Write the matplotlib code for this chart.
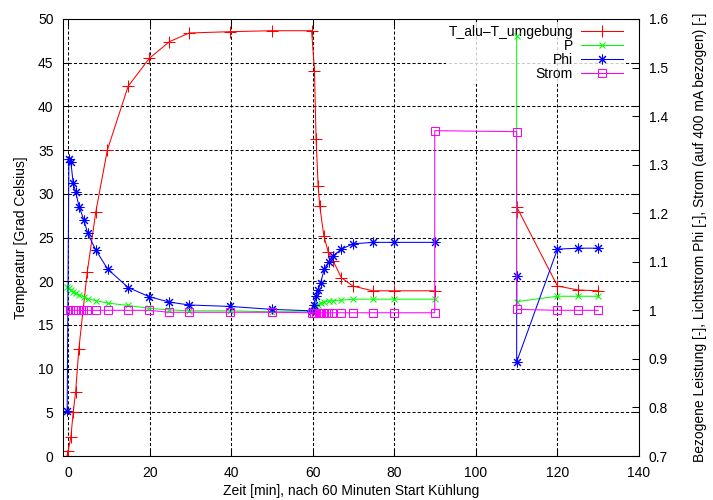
import matplotlib
matplotlib.use('Agg')
import matplotlib.pyplot as plt

plt.rcParams['font.family'] = ['Liberation Sans', 'DejaVu Sans']
plt.rcParams['font.size'] = 10

# T_alu - T_umgebung (linke Achse, Grad Celsius)
t_temp_1 = [-0.3, 0.0, 0.66, 1.23, 1.82, 2.6, 4.66, 6.76, 9.6, 14.7, 19.9, 24.8, 29.7, 39.8,
            49.9, 59.7, 60.4, 60.8, 61.3, 61.7, 62.7, 63.8, 65.0, 67.0, 69.8, 74.7, 79.9, 89.9]
temp_1 = [0.0, 0.6, 2.2, 5.0, 7.3, 12.2, 21.0, 27.9, 35.0, 42.3, 45.5, 47.4, 48.4, 48.55,
          48.66, 48.66, 44.1, 36.3, 30.9, 28.6, 25.2, 23.3, 22.3, 20.4, 19.45, 18.9, 18.9, 18.9]
t_temp_2 = [110, 110, 120, 125, 130]
temp_2 = [27.95, 28.5, 19.45, 19.0, 18.9]

# P, bezogene Leistung (rechte Achse)
t_p_1 = [-0.3, 0.2, 0.66, 1.23, 1.82, 2.7, 3.85, 4.76, 6.72, 9.67, 14.7, 19.9, 24.8, 29.7,
         39.8, 49.9, 59.7, 60.3, 60.9, 61.3, 61.9, 62.8, 63.9, 64.9, 67.0, 69.9, 74.8, 79.9, 89.9]
p_1 = [1.049, 1.046, 1.042, 1.038, 1.035, 1.031, 1.028, 1.024, 1.020, 1.015, 1.010, 1.004,
       1.001, 0.999, 0.999, 0.997, 0.997, 1.005, 1.008, 1.012, 1.015, 1.018, 1.019, 1.020,
       1.021, 1.023, 1.023, 1.023, 1.023]
t_p_2 = [110, 110, 120, 125, 130]
p_2 = [1.565, 1.018, 1.029, 1.029, 1.029]

# Phi, Lichtstrom (rechte Achse)
t_phi_1 = [-0.25, 0.17, 0.66, 1.23, 1.82, 2.7, 3.85, 4.76, 6.72, 9.67, 14.7, 19.9, 24.8, 29.7,
           39.8, 49.9, 59.7, 60.3, 60.9, 61.3, 61.9, 62.8, 63.9, 64.9, 67.0, 69.9, 74.8, 79.9, 89.9]
phi_1 = [0.793, 1.312, 1.305, 1.262, 1.244, 1.213, 1.186, 1.159, 1.125, 1.085, 1.047, 1.028,
         1.017, 1.011, 1.008, 1.002, 0.999, 1.011, 1.030, 1.042, 1.056, 1.085, 1.100, 1.112,
         1.126, 1.137, 1.140, 1.140, 1.140]
t_phi_2 = [110, 110, 120, 125, 130]
phi_2 = [1.071, 0.894, 1.126, 1.128, 1.128]

# Strom, bezogen auf 400 mA (rechte Achse)
t_strom = [-0.4, 0.4, 1.2, 1.8, 2.45, 3.1, 3.7, 4.7, 6.7, 9.7, 14.7, 19.9, 24.8, 29.7, 39.8,
           49.9, 59.7, 60.2, 60.8, 61.4, 62.0, 62.6, 63.2, 63.8, 64.6, 67.0, 69.9, 74.8, 79.9,
           89.9, 89.9, 110, 110, 120, 125, 130]
strom = [1.0, 1.0, 1.0, 1.0, 1.0, 1.0, 1.0, 1.0, 1.0, 1.0, 1.0, 1.0, 0.996, 0.996, 0.996,
         0.996, 0.995, 0.995, 0.995, 0.995, 0.995, 0.995, 0.995, 0.995, 0.995, 0.995, 0.995,
         0.995, 0.995, 0.995, 1.370, 1.368, 1.002, 1.0, 1.0, 1.0]

fig = plt.figure(figsize=(7.13, 5.0), dpi=100)
ax = fig.add_axes([63.3 / 713, 1 - 456 / 500, (639 - 63.3) / 713, (456 - 19) / 500])
ax2 = ax.twinx()

lw = 0.75
asterisk = (8, 2, 0)

ax.plot(t_temp_1, temp_1, color='#ff0000', lw=lw, marker='+', ms=8, mew=lw)
ax.plot(t_temp_2, temp_2, color='#ff0000', lw=lw, marker='+', ms=8, mew=lw)

ax2.plot(t_p_1, p_1, color='#00ff00', lw=lw, marker='x', ms=5, mew=lw)
ax2.plot(t_p_2, p_2, color='#00ff00', lw=lw, marker='x', ms=5, mew=lw)
ax2.plot(t_phi_1, phi_1, color='#0000ff', lw=lw, marker=asterisk, ms=7, mew=lw)
ax2.plot(t_phi_2, phi_2, color='#0000ff', lw=lw, marker=asterisk, ms=7, mew=lw)
ax2.plot(t_strom, strom, color='#ff00ff', lw=lw, marker='s', ms=6, mew=lw, mfc='none')

# legend handles (gnuplot key)
h_t, = ax.plot([], [], color='#ff0000', lw=lw, marker='+', ms=8, mew=lw)
h_p, = ax.plot([], [], color='#00ff00', lw=lw, marker='x', ms=5, mew=lw)
h_phi, = ax.plot([], [], color='#0000ff', lw=lw, marker=asterisk, ms=7, mew=lw)
h_s, = ax.plot([], [], color='#ff00ff', lw=lw, marker='s', ms=6, mew=lw, mfc='none')
leg = ax.legend([h_t, h_p, h_phi, h_s], ['T_alu\u2013T_umgebung', 'P', 'Phi', 'Strom'],
                loc='upper right', bbox_to_anchor=(0.977, 0.992), markerfirst=False,
                numpoints=1, handlelength=3.0, handletextpad=0.6, labelspacing=0.0,
                borderaxespad=0.0, borderpad=0.2, frameon=True, fancybox=False)
leg.get_frame().set_edgecolor('none')
leg.get_frame().set_facecolor('white')
leg.set_zorder(1)

ax.set_xlim(-1.2, 140)
ax.set_ylim(0, 50)
ax2.set_ylim(0.7, 1.6)
ax.set_xticks(range(0, 141, 20))
ax.set_yticks(range(0, 51, 5))
ax2.set_yticks([0.7 + 0.1 * i for i in range(10)])
ax2.set_yticklabels(['0.7', '0.8', '0.9', '1', '1.1', '1.2', '1.3', '1.4', '1.5', '1.6'])

ax.set_axisbelow(True)
ax.grid(True, color='black', lw=lw, linestyle=(0, (3, 2)))
ax.tick_params(axis='both', direction='in', length=5, width=lw, top=True, right=True,
               labelright=False, pad=7)
ax2.tick_params(axis='y', direction='in', length=5, width=lw, pad=7)
for a in (ax, ax2):
    for s in a.spines.values():
        s.set_linewidth(lw)

ax.set_xlabel('Zeit [min], nach 60 Minuten Start Kühlung', labelpad=3)
ax.set_ylabel('Temperatur [Grad Celsius]', labelpad=7)
ax2.set_ylabel('Bezogene Leistung [-], Lichtstrom Phi [-], Strom (auf 400 mA bezogen) [-]',
               labelpad=18)

fig.savefig('out.png', dpi=100)
